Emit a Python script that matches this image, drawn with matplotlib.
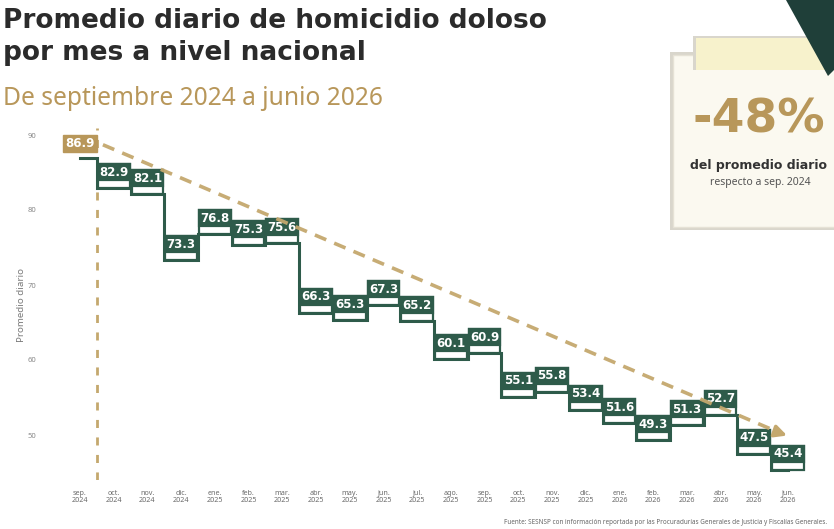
import matplotlib
matplotlib.use("Agg")
import matplotlib.pyplot as plt
from matplotlib.patches import Rectangle, Polygon

plt.rcParams['font.family'] = ['Noto Sans', 'DejaVu Sans']
BOLD = ["DejaVu Sans"]

months = ["sep.", "oct.", "nov.", "dic.", "ene.", "feb.", "mar.", "abr.", "may.", "jun.", "jul.",
          "ago.", "sep.", "oct.", "nov.", "dic.", "ene.", "feb.", "mar.", "abr.", "may.", "jun."]
years = ["2024", "2024", "2024", "2024", "2025", "2025", "2025", "2025", "2025", "2025", "2025",
         "2025", "2025", "2025", "2025", "2025", "2026", "2026", "2026", "2026", "2026", "2026"]
values = [86.9, 82.9, 82.1, 73.3, 76.8, 75.3, 75.6, 66.3, 65.3, 67.3, 65.2,
          60.1, 60.9, 55.1, 55.8, 53.4, 51.6, 49.3, 51.3, 52.7, 47.5, 45.4]
yticks = [50, 60, 70, 80, 90]

GREEN = "#2E5B4A"
TAN = "#B8975A"
TAN_DASH = "#C4A86E"
GRAY = "#8a8a8a"
DARK = "#2b2b2b"

W, H = 834, 529
fig = plt.figure(figsize=(W / 100, H / 100), dpi=100)
fig.patch.set_facecolor("white")

ax = fig.add_axes([60 / W, (H - 480) / H, (812 - 60) / W, (480 - 127.5) / H])
ax.set_xlim(-0.593, 21.71)
ax.set_ylim(44, 91)
for s in ax.spines.values():
    s.set_visible(False)
ax.set_facecolor("none")

x = list(range(len(values)))

# vertical reference dashed line
ax.plot([0.5, 0.5], [44, 91], color=TAN_DASH, lw=2, dashes=(2.9, 3.4), zorder=1)

# step line
ax.plot(x, values, drawstyle="steps-mid", color=GREEN, lw=2.2, zorder=3,
        solid_joinstyle="miter")

# label boxes
for i, v in enumerate(values):
    if i == 0:
        ax.add_patch(Rectangle((i - 0.5, v + 0.8), 1.0, 2.3, facecolor=TAN,
                               edgecolor=TAN, lw=1, zorder=4))
        ax.text(i, v + 1.95, f"{v:.1f}", color="white", fontsize=8.5,
                fontweight="bold", ha="center", va="center", zorder=5, family=BOLD)
    else:
        ax.add_patch(Rectangle((i - 0.47, v), 0.94, 3.2, facecolor="white",
                               edgecolor=GREEN, lw=1.6, zorder=4))
        ax.add_patch(Rectangle((i - 0.47, v + 1.05), 0.94, 2.15, facecolor=GREEN,
                               edgecolor=GREEN, lw=1.6, zorder=4))
        ax.text(i, v + 2.12, f"{v:.1f}", color="white", fontsize=8.5,
                fontweight="bold", ha="center", va="center", zorder=5, family=BOLD)

# trend dashed arrow
x0, y0, x1, y1 = 0.68, 88.7, 20.75, 50.3
ax.plot([x0, x1], [y0, y1], color=TAN_DASH, lw=2.6, dashes=(3.4, 2.4), zorder=6,
        alpha=0.95)
ax.annotate("", xy=(21.05, 49.8), xytext=(20.7, 50.35),
            arrowprops=dict(arrowstyle="-|>,head_length=0.7,head_width=0.35",
                            color=TAN_DASH, lw=2.6), zorder=6)

ax.set_xticks(x)
ax.set_xticklabels([f"{m}\n{y}" for m, y in zip(months, years)], fontsize=5.2,
                   color="#6b6b6b", linespacing=1.0)
ax.set_yticks(yticks)
ax.set_yticklabels([str(t) for t in yticks], fontsize=5.5, color=GRAY)
ax.tick_params(axis="both", length=0)
ax.tick_params(axis="y", pad=17)
ax.tick_params(axis="x", pad=7)

fig.text(22 / W, 1 - 305 / H, "Promedio diario", rotation=90, fontsize=7,
         color="#7a7a7a", ha="center", va="center")

# titles
fig.text(3 / W, 1 - 28 / H, "Promedio diario de homicidio doloso", fontsize=19,
         fontweight="bold", color=DARK, ha="left", va="baseline", family=BOLD)
fig.text(3 / W, 1 - 60 / H, "por mes a nivel nacional", fontsize=19,
         fontweight="bold", color=DARK, ha="left", va="baseline", family=BOLD)
fig.text(3 / W, 1 - 105 / H, "De septiembre 2024 a junio 2026", fontsize=17.7,
         color=TAN, ha="left", va="baseline")

# right note panel
fa = fig.add_axes([0, 0, 1, 1], zorder=10)
fa.set_xlim(0, W)
fa.set_ylim(H, 0)
fa.axis("off")
fa.set_facecolor("none")
fa.add_patch(Rectangle((670, 52), 170, 178, facecolor="#d9d6cc", edgecolor="none"))
fa.add_patch(Rectangle((673, 55), 165, 172, facecolor="#fbf9f0", edgecolor="#e6e2d6", lw=1))
fa.add_patch(Rectangle((693, 36), 140, 34, facecolor="#d9d6cc", edgecolor="none"))
fa.add_patch(Rectangle((696, 38), 138, 32, facecolor="#f7f2cc", edgecolor="none"))
fa.add_patch(Polygon([(786, 0), (834, 0), (834, 70), (828, 76)], closed=True,
                     facecolor="#1f3f39", edgecolor="none"))
fa.text(759, 120, "-48%", fontsize=34, fontweight="heavy", color=TAN,
        ha="center", va="center", family=BOLD)
fa.text(759, 165, "del promedio diario", fontsize=9, fontweight="bold",
        color="#333333", ha="center", va="center", family=BOLD)
fa.text(760, 183, "respecto a sep. 2024", fontsize=7.5, color="#555555",
        ha="center", va="center")

fa.text(827, 522, "Fuente: SESNSP con información reportada por las Procuradurías "
        "Generales de Justicia y Fiscalías Generales.", fontsize=4.6, color="#666666",
        ha="right", va="center")

fig.savefig("out.png", dpi=100)
